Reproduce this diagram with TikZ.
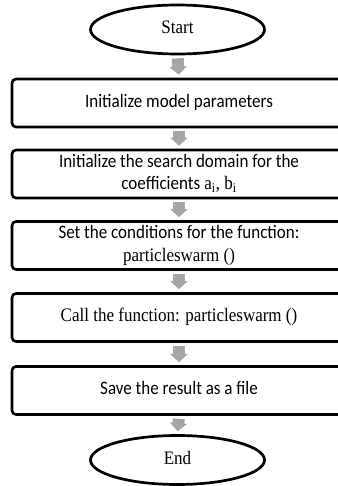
\documentclass[tikz,border=0pt]{standalone}
\usepackage{fontspec}
\setmainfont{Liberation Serif}
\newfontfamily\calib{Carlito}
\usetikzlibrary{shapes.geometric,arrows.meta}
\definecolor{arrowgray}{RGB}{166,166,166}
% labels are set slightly taller than wide
\newcommand{\vstretch}[1]{\scalebox{1}[1.12]{\begin{tabular}{@{}c@{}}#1\end{tabular}}}
\begin{document}
\begin{tikzpicture}[x=1pt,y=-1pt,
  term/.style={ellipse, draw, line width=2.7pt, minimum width=174pt,
    minimum height=49pt, inner sep=0pt, font=\fontsize{17}{20}\selectfont},
  stage/.style={draw, line width=2.6pt, rounded corners=4pt,
    minimum width=334pt, minimum height=48pt, align=center, inner sep=0pt,
    font=\fontsize{17}{20}\selectfont},
  flow/.style={line width=12pt, draw=arrowgray,
    -{Triangle[width=17pt,length=8pt]}, shorten <=3pt, shorten >=3pt}]
\useasboundingbox (0,0) rectangle (337,486);

\node[term]  (start) at (177.5,29.5) {\vstretch{Start}};
\node[stage] (s1) at (179,103)   {\vstretch{\calib Initialize model parameters}};
\node[stage] (s2) at (179,174)   {\vstretch{{\calib Initialize the search domain for the}\\
  {\calib coefficients} a\textsubscript{i}, b\textsubscript{i}}};
\node[stage] (s3) at (179,245.5) {\vstretch{{\calib Set the conditions for the function:}\\
  particleswarm ()}};
\node[stage] (s4) at (179,317.5) {\vstretch{Call the function: particleswarm ()}};
\node[stage] (s5) at (179,390.5) {\vstretch{\calib Save the result as a file}};
\node[term]  (end) at (177.5,460)  {\vstretch{End}};

\draw[flow] (start.south) -- (s1.north);
\draw[flow] (s1.south) -- (s2.north);
\draw[flow] (s2.south) -- (s3.north);
\draw[flow] (s3.south) -- (s4.north);
\draw[flow] (s4.south) -- (s5.north);
\draw[flow] (s5.south) -- (end.north);
\end{tikzpicture}
\end{document}
